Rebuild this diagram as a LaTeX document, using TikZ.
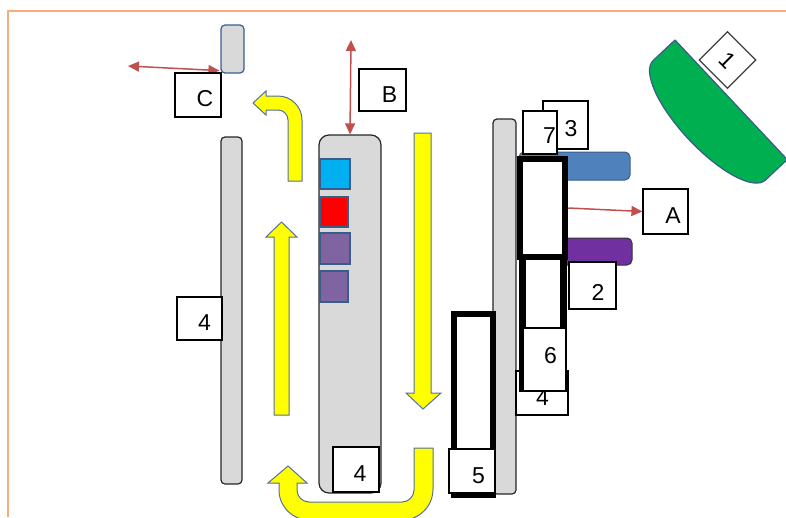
\documentclass[tikz,border=0pt]{standalone}
\usepackage{fontspec}
\setmainfont{Liberation Sans}
\usetikzlibrary{arrows.meta,calc}
\definecolor{redarrow}{RGB}{192,80,77}
\definecolor{yel}{RGB}{255,255,0}
\definecolor{yelline}{RGB}{84,112,165}
\definecolor{greyfill}{RGB}{217,217,217}
\definecolor{cyanb}{RGB}{0,176,240}
\definecolor{purp}{RGB}{128,100,162}
\definecolor{bluebarc}{RGB}{79,129,189}
\definecolor{purplebarc}{RGB}{112,48,160}
\definecolor{greenc}{RGB}{0,176,80}
\definecolor{outblue}{RGB}{56,93,138}
\definecolor{orangeframe}{RGB}{248,172,122}
\tikzset{
  lbl/.style={font=\fontsize{23}{26}\selectfont, inner sep=0pt, text=black},
  numbox/.style={draw=black, fill=white, line width=1.2pt, inner sep=0pt},
  thickbox/.style={draw=black, fill=white, line width=6.5pt, inner sep=0pt},
  greybar/.style={draw=black!85, fill=greyfill, line width=1.2pt, rounded corners=4pt, inner sep=0pt},
  sqr/.style={draw=outblue, line width=1.2pt, inner sep=0pt},
  yarrow/.style={draw=yelline, fill=yel, line width=1pt, line join=miter},
  redline/.style={draw=redarrow, line width=1.5pt},
  redtip/.style={-{Triangle[length=11pt,width=10pt]}},
  redtips/.style={{Triangle[length=11pt,width=10pt]}-{Triangle[length=11pt,width=10pt]}}
}
\begin{document}
\begin{tikzpicture}[x=1pt,y=-1pt]
\useasboundingbox (0,0) rectangle (786,517);
% frame
\draw[orangeframe, line width=2.5pt] (8,517) -- (8,11) -- (786,11);

% left side
\node[greybar, draw=outblue, minimum width=23pt, minimum height=48pt] (topr) at (232.5,49) {};
\node[greybar, minimum width=21pt, minimum height=347pt] (lbar) at (231.5,310.5) {};
\coordinate (cL) at (128,66);
\draw[redline, redtips] (cL) -- ($(topr.south west)+(-1,-3)$);
\node[numbox, minimum width=46pt, minimum height=44pt,
  label={[lbl, xshift=7pt, yshift=-4pt]center:C}] (boxC) at (198,95) {};
\node[numbox, minimum width=45pt, minimum height=43pt,
  label={[lbl, xshift=5pt, yshift=-4pt]center:4}] (box4L) at (199.5,318.5) {};

% centre column
\node[greybar, rounded corners=10pt, minimum width=62pt, minimum height=358pt] (ccol) at (350,314) {};
\node[sqr, fill=cyanb, minimum width=30pt, minimum height=30pt] (sq1) at (335,174) {};
\node[sqr, fill=red, minimum width=28pt, minimum height=30pt] (sq2) at (334,212) {};
\node[sqr, fill=purp, minimum width=30pt, minimum height=31pt] (sq3) at (335,248.5) {};
\node[sqr, fill=purp, minimum width=28pt, minimum height=31pt] (sq4) at (334,286.5) {};
\node[numbox, minimum width=46pt, minimum height=45pt,
  label={[lbl, xshift=4pt, yshift=-4.5pt]center:4}] (box4B) at (356,469.5) {};
\coordinate (bT) at (351,40);
\draw[redline, redtips] (bT) -- (ccol.north);
\node[numbox, minimum width=47pt, minimum height=42pt,
  label={[lbl, xshift=7pt, yshift=-4.5pt]center:B}] (boxB) at (382.5,90) {};

% yellow arrows
\draw[yarrow] (288,181) -- (288,120) .. controls (288,114.5) and (283.5,110) .. (278,110)
  -- (266,110) -- (266,115) -- (253,103) -- (266,91) -- (266,96) -- (278,96)
  .. controls (291.3,96) and (302,106.7) .. (302,120) -- (302,181) -- cycle;
\draw[yarrow] (274,415) -- (274,237) -- (266,237) -- (281.5,222) -- (297,237) -- (289,237) -- (289,415) -- cycle;
\draw[yarrow] (414,133) -- (414,393) -- (406,393) -- (423,409) -- (441,393) -- (431,393) -- (431,133) -- cycle;
\draw[yarrow] (414,448) -- (414,490) .. controls (414,496.6) and (408.6,502) .. (402,502)
  -- (309,502) .. controls (302.4,502) and (297,496.6) .. (297,490)
  -- (297,483) -- (307,483) -- (288,466) -- (268,483) -- (279,483) -- (279,490)
  .. controls (279,506.6) and (292.4,520) .. (309,520) -- (402,520)
  .. controls (419.1,520) and (433,506.6) .. (433,489) -- (433,448) -- cycle;

% right cluster
\node[greybar, minimum width=23pt, minimum height=375pt] (rbar) at (504.5,306.5) {};
\node[draw=outblue, fill=bluebarc, line width=1pt, rounded corners=5pt, inner sep=0pt,
  minimum width=111pt, minimum height=28pt] (bbar) at (574.5,166) {};
\node[draw=black!80, fill=purplebarc, line width=1pt, rounded corners=5pt, inner sep=0pt,
  minimum width=102pt, minimum height=27pt] (pbar) at (581,251.5) {};
\node[numbox, minimum width=45pt, minimum height=48pt,
  label={[lbl, xshift=5.5pt, yshift=-4pt]center:3}] (box3) at (565.5,125) {};
\node[numbox, minimum width=34pt, minimum height=43pt,
  label={[lbl, xshift=9.5pt, yshift=-3.5pt]center:7}] (box7) at (540,132.5) {};
\node[thickbox, minimum width=45pt, minimum height=98pt] (thickU) at (542.5,208) {};
\node[numbox, minimum width=52pt, minimum height=44pt,
  label={[lbl, xshift=0.5pt, yshift=-4.5pt]center:4}] (box4R) at (542,393) {};
\node[thickbox, minimum width=41pt, minimum height=132pt] (thickL) at (543,323) {};
\node[numbox, minimum width=47pt, minimum height=47pt,
  label={[lbl, xshift=5.5pt, yshift=-6.5pt]center:2}] (box2) at (592.5,285.5) {};
\node[numbox, minimum width=43pt, minimum height=63pt,
  label={[lbl, xshift=6pt, yshift=3.5pt]center:6}] (box6) at (544.5,359.5) {};
\node[thickbox, line width=5.5pt, minimum width=39pt, minimum height=181pt] (thick5) at (473.5,404.5) {};
\node[numbox, minimum width=46pt, minimum height=44pt,
  label={[lbl, xshift=6.5pt, yshift=-5pt]center:5}] (box5) at (472,471) {};
\node[numbox, minimum width=45pt, minimum height=45pt,
  label={[lbl, xshift=7.5pt, yshift=-4.5pt]center:A}] (boxA) at (665.5,211.5) {};
\draw[redline, redtip] (thickU.east) -- (boxA.west);

% green segment
\begin{scope}[shift={(675,40)}, rotate=-46.8]
\draw[draw=outblue, fill=greenc, line width=1.2pt, line join=round]
  (0,0) -- (0,30) .. controls (0,45.5) and (36.7,58) .. (82,58)
  .. controls (127.3,58) and (164,45.5) .. (164,30) -- (164,0) -- cycle;
\end{scope}
\node[numbox, draw=black!75, rotate=-45, minimum width=40pt, minimum height=40pt, lbl] (box1) at (727.5,60) {1};
\end{tikzpicture}
\end{document}
